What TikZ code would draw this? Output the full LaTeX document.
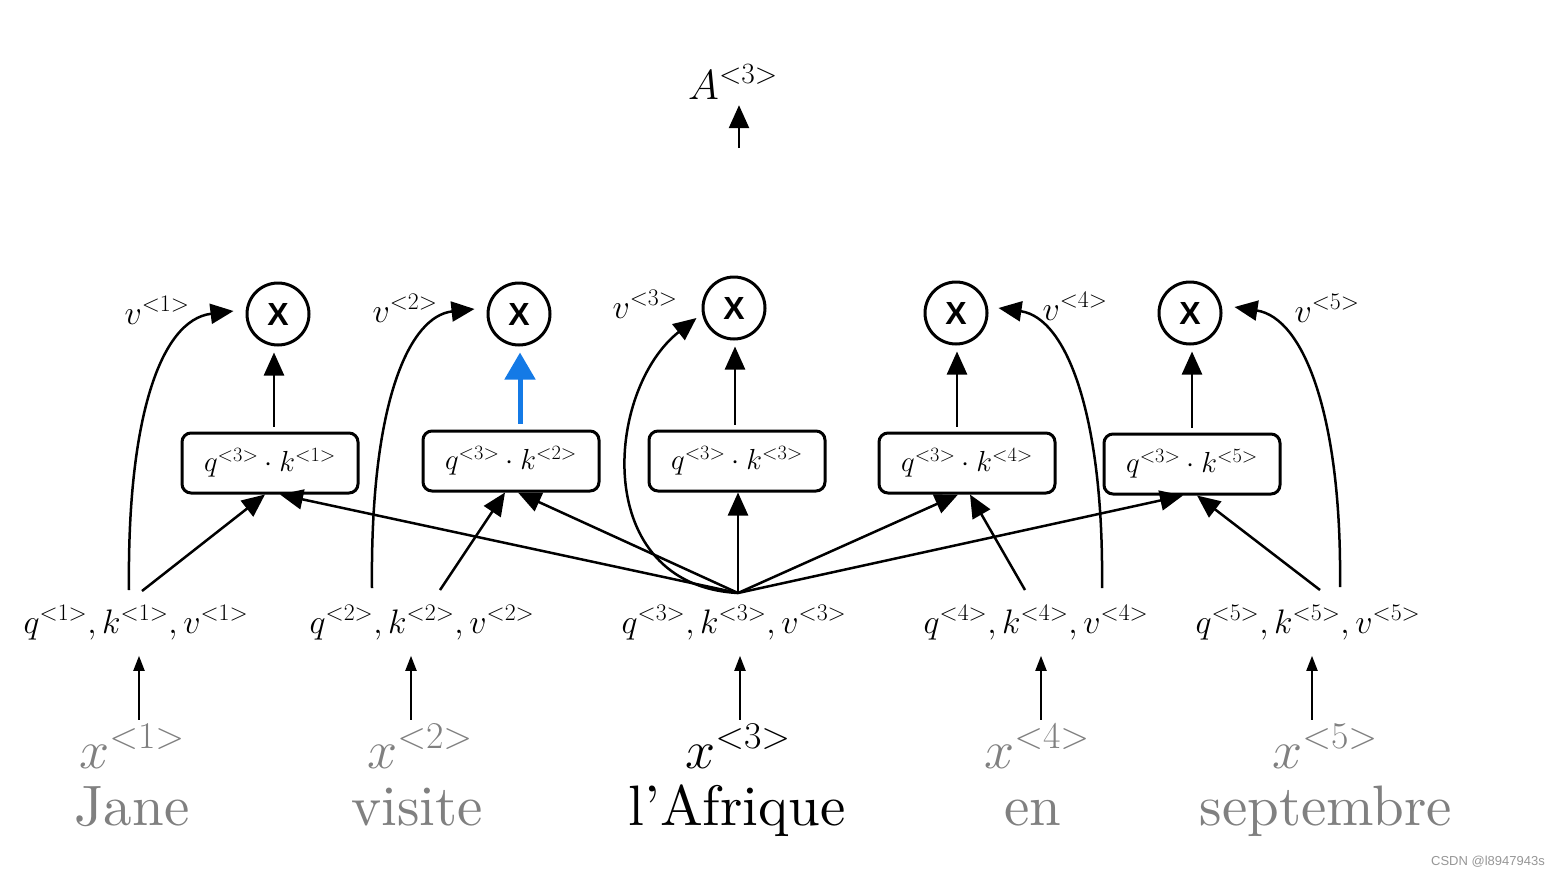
\RequirePackage{fix-cm}
\documentclass[tikz,border=0pt]{standalone}
\usepackage{amsmath}
\usepackage{fontspec}
\newfontfamily\xfont{Liberation Sans}
\newfontfamily\wordfont{lmroman10-regular.otf}
\usetikzlibrary{arrows.meta}
\definecolor{wgray}{RGB}{128,128,128}
\definecolor{hblue}{RGB}{20,122,230}
\definecolor{wmgray}{RGB}{150,150,150}
\newcommand{\tg}[1]{^{<#1>}}
\begin{document}
\begin{tikzpicture}[x=1pt,y=-1pt,
  word/.style={anchor=base,inner sep=0pt,text=wgray,font=\wordfont\fontsize{57}{60}\selectfont},
  xlab/.style={anchor=base,inner sep=0pt,text=wgray,font=\fontsize{54}{58}\selectfont},
  qkv/.style={anchor=base,inner sep=0pt,font=\fontsize{34}{38}\selectfont},
  vlab/.style={anchor=base,inner sep=0pt,font=\fontsize{34}{38}\selectfont},
  prod/.style={draw,line width=3pt,rounded corners=9pt,minimum width=176pt,minimum height=60pt,inner sep=0pt,font=\fontsize{29}{32}\selectfont},
  mult/.style={draw,circle,line width=3pt,minimum size=62pt,inner sep=0pt,font=\xfont\bfseries\fontsize{32}{32}\selectfont},
  arr/.style={line width=2.5pt,-{Triangle[length=23pt,width=20pt]}},
  thinarr/.style={line width=2pt,-{Triangle[length=15pt,width=11pt]}},
  bluearr/.style={line width=5pt,draw=hblue,-{Triangle[length=27pt,width=30pt]}},
]
\useasboundingbox (0,0) rectangle (1560,876);

% words
\node[word] (w1) at (132,825) {Jane};
\node[word] (w2) at (417,825) {visite};
\node[word,text=black] (w3) at (737,825) {l’Afrique};
\node[word] (w4) at (1033,825) {en};
\node[word] (w5) at (1326,825) {septembre};

% x labels
\node[xlab] (x1) at (132,768) {$x\tg{1}$};
\node[xlab] (x2) at (420,768) {$x\tg{2}$};
\node[xlab,text=black] (x3) at (738,768) {$x\tg{3}$};
\node[xlab] (x4) at (1037,768) {$x\tg{4}$};
\node[xlab] (x5) at (1325,768) {$x\tg{5}$};

% qkv labels
\node[qkv] (q1) at (136,633) {$q\tg{1}, k\tg{1}, v\tg{1}$};
\node[qkv] (q2) at (422,633) {$q\tg{2}, k\tg{2}, v\tg{2}$};
\node[qkv] (q3) at (734,633) {$q\tg{3}, k\tg{3}, v\tg{3}$};
\node[qkv] (q4) at (1036,633) {$q\tg{4}, k\tg{4}, v\tg{4}$};
\node[qkv] (q5) at (1308,633) {$q\tg{5}, k\tg{5}, v\tg{5}$};

% x -> qkv arrows
\coordinate (ax1) at (139,0);
\coordinate (ax2) at (411,0);
\coordinate (ax3) at (740,0);
\coordinate (ax4) at (1041,0);
\coordinate (ax5) at (1312,0);
\foreach \i in {1,...,5}{
  \draw[thinarr,shorten <=4pt,shorten >=16pt] (ax\i |- x\i.north) -- (ax\i |- q\i.south);
}

% product boxes
\node[prod] (b1) at (270,463) {$q\tg{3}\cdot k\tg{1}$};
\node[prod] (b2) at (511,461) {$q\tg{3}\cdot k\tg{2}$};
\node[prod] (b3) at (737,461) {$q\tg{3}\cdot k\tg{3}$};
\node[prod] (b4) at (967,463) {$q\tg{3}\cdot k\tg{4}$};
\node[prod] (b5) at (1192,464) {$q\tg{3}\cdot k\tg{5}$};

% multiply circles
\node[mult] (c1) at (278,314) {X};
\node[mult] (c2) at (519,314) {X};
\node[mult] (c3) at (734,308) {X};
\node[mult] (c4) at (956,313) {X};
\node[mult] (c5) at (1190,313) {X};

% box -> circle
\draw[arr,shorten <=5pt,shorten >=6pt] ([xshift=4pt]b1.north) -- ([xshift=4pt]b1.north |- c1.south);
\draw[bluearr,shorten <=6pt,shorten >=6pt] ([xshift=9pt]b2.north) -- ([xshift=9pt]b2.north |- c2.south);
\draw[arr,shorten <=5pt,shorten >=6pt] ([xshift=-2pt]b3.north) -- ([xshift=-2pt]b3.north |- c3.south);
\draw[arr,shorten <=5pt,shorten >=6pt] ([xshift=-10pt]b4.north) -- ([xshift=-10pt]b4.north |- c4.south);
\draw[arr,shorten <=5pt,shorten >=6pt] (b5.north) -- (b5.north |- c5.south);

% A output
\node[anchor=base,inner sep=0pt,font=\fontsize{42}{46}\selectfont] (A) at (733,99) {$A\tg{3}$};
\coordinate (Abot) at (739,148);
\draw[arr,shorten >=6pt] (Abot) -- (Abot |- A.south);

% source points
\coordinate (h) at (738,593);
\coordinate (s1) at (142,591);
\coordinate (s2) at (440,590);
\coordinate (s4) at (1025,590);
\coordinate (s5) at (1320,590);
\coordinate (v1) at (129,590);
\coordinate (v2) at (372,588);
\coordinate (v4) at (1102,588);
\coordinate (v5) at (1340,587);

% q/k connectors
\draw[arr] (s1) -- ([xshift=-5pt]b1.south);
\draw[arr] (h) -- ([xshift=10pt]b1.south);
\draw[arr] (s2) -- ([xshift=-6pt]b2.south);
\draw[arr] (h) -- ([xshift=7pt]b2.south);
\draw[arr] (h) -- ([xshift=1pt]b3.south);
\draw[arr] (h) -- ([xshift=-9pt]b4.south);
\draw[arr] (s4) -- ([xshift=3pt]b4.south);
\draw[arr] (h) -- ([xshift=-9pt]b5.south);
\draw[arr] (s5) -- ([xshift=5pt]b5.south);

% value curves
\draw[arr] (v1) .. controls (127,420) and (160,320) .. ([xshift=-12pt,yshift=3pt]c1.west);
\draw[arr] (v2) .. controls (370,400) and (410,316) .. ([xshift=-12pt,yshift=5pt]c2.west);
\draw[arr] (h) .. controls (590,585) and (605,390) .. ([xshift=-5pt,yshift=-10pt]c3.west);
\draw[arr] (v4) .. controls (1104,420) and (1068,318) .. ([xshift=10pt,yshift=5pt]c4.east);
\draw[arr] (v5) .. controls (1342,420) and (1305,318) .. ([xshift=12pt,yshift=6pt]c5.east);

% value labels
\node[vlab] (l1) at (157,324) {$v\tg{1}$};
\node[vlab] (l2) at (405,322) {$v\tg{2}$};
\node[vlab] (l3) at (645,318) {$v\tg{3}$};
\node[vlab] (l4) at (1075,320) {$v\tg{4}$};
\node[vlab] (l5) at (1327,322) {$v\tg{5}$};

% watermark
\node[anchor=base east,inner sep=0pt,text=wmgray,font=\xfont\fontsize{13}{14}\selectfont] (wm) at (1545,865) {CSDN @l8947943s};
\end{tikzpicture}
\end{document}
